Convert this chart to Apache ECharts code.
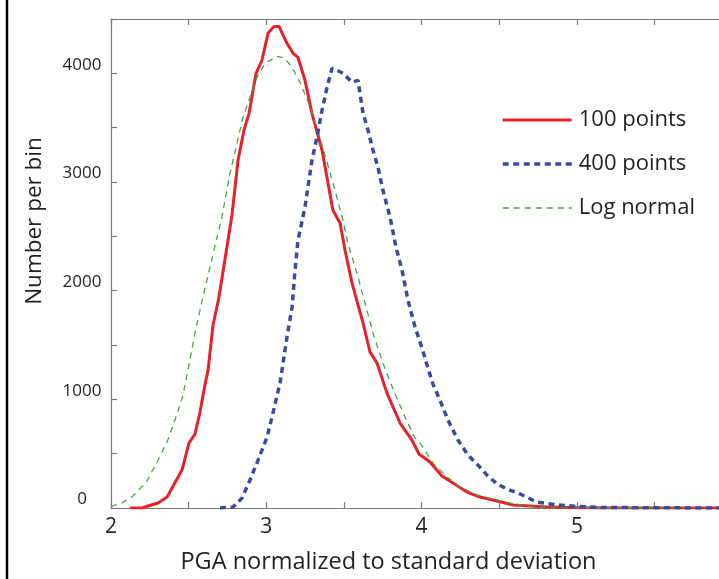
<!DOCTYPE html>
<html>
<head>
<meta charset="utf-8">
<title>PGA histogram</title>
<script src="https://cdn.jsdelivr.net/npm/echarts@6/dist/echarts.min.js"></script>
<style>
  html, body { margin: 0; padding: 0; background: #ffffff; }
  #chart { width: 719px; height: 579px; }
</style>
</head>
<body>
<div id="chart"></div>
<script>
// Histogram counts per bin: [PGA / sigma, number per bin]
const seriesNames = ['100 points', '400 points', 'Log normal'];

const points100 = [
  [2.122, 0], [2.200, 0], [2.238, 18], [2.303, 46], [2.361, 101], [2.457, 349],
  [2.502, 598], [2.541, 680], [2.573, 883], [2.605, 1131], [2.625, 1269],
  [2.657, 1683], [2.695, 1940], [2.779, 2694], [2.818, 3200], [2.856, 3476],
  [2.889, 3632], [2.934, 4000], [2.972, 4120], [3.011, 4368], [3.050, 4432],
  [3.082, 4432], [3.127, 4294], [3.172, 4184], [3.204, 4147], [3.249, 3936],
  [3.294, 3632], [3.359, 3292], [3.429, 2740], [3.475, 2621], [3.507, 2372],
  [3.552, 2069], [3.623, 1701], [3.668, 1434], [3.713, 1333], [3.777, 1057],
  [3.861, 782], [3.938, 625], [3.983, 497], [4.054, 423], [4.131, 294],
  [4.202, 230], [4.292, 147], [4.376, 101], [4.486, 64], [4.589, 28],
  [4.698, 18], [4.808, 9], [5.020, 2], [5.400, 1], [5.915, 0]
];

const points400 = [
  [2.702, 0], [2.786, 9], [2.844, 92], [2.895, 257], [2.947, 441], [3.005, 653],
  [3.043, 874], [3.088, 1149], [3.101, 1269], [3.133, 1572], [3.166, 1848],
  [3.185, 2188], [3.204, 2464], [3.249, 2768], [3.294, 3200], [3.326, 3411],
  [3.359, 3660], [3.391, 3871], [3.423, 4046], [3.455, 4028], [3.494, 4000],
  [3.552, 3917], [3.591, 3936], [3.603, 3816], [3.623, 3632], [3.655, 3476],
  [3.687, 3292], [3.719, 3136], [3.751, 2924], [3.797, 2676], [3.835, 2400],
  [3.874, 2188], [3.912, 1913], [3.958, 1664], [4.003, 1471], [4.041, 1287],
  [4.073, 1140], [4.118, 993], [4.170, 809], [4.234, 625], [4.299, 487],
  [4.363, 395], [4.421, 303], [4.486, 221], [4.550, 175], [4.634, 129],
  [4.743, 55], [4.872, 28], [4.975, 18], [5.149, 5], [5.500, 2], [5.915, 0]
];

const pointsLogNormal = [
  [2.000, 14], [2.071, 46], [2.142, 110], [2.232, 248], [2.296, 423], [2.361, 607],
  [2.412, 809], [2.464, 1039], [2.489, 1223], [2.541, 1609], [2.592, 1940],
  [2.637, 2216], [2.683, 2492], [2.715, 2685], [2.766, 3080], [2.811, 3356],
  [2.850, 3595], [2.895, 3779], [2.940, 3963], [2.992, 4092], [3.069, 4157],
  [3.120, 4138], [3.166, 4055], [3.217, 3917], [3.281, 3697], [3.333, 3467],
  [3.384, 3218], [3.442, 2924], [3.494, 2648], [3.526, 2428], [3.584, 2161],
  [3.636, 1885], [3.687, 1609], [3.751, 1333], [3.816, 1094], [3.893, 837],
  [3.958, 644], [3.990, 598], [4.073, 414], [4.164, 285], [4.247, 193],
  [4.357, 120], [4.486, 74], [4.589, 37], [4.717, 12], [4.891, 3], [5.915, 0]
];

// Axis ticks and labels
const xTicks = [2, 2.5, 3, 3.5, 4, 4.5, 5, 5.5];
const xLabels = [2, 3, 4, 5];
const yLabels = [0, 1000, 2000, 3000, 4000];

const FONT = '"Open Sans", "Noto Sans", sans-serif';
const INK = '#231f20';
const AXIS = '#7a7a7a';

const RED = '#e8202a';
const BLUE = '#3a4b9f';
const GREEN = '#3daa3a';

const styles = {
  '100 points': { color: RED, width: 3, type: 'solid' },
  '400 points': { color: BLUE, width: 3.5, type: [6, 4.5] },
  'Log normal': { color: GREEN, width: 1.3, type: [6, 5] }
};

const chart = echarts.init(document.getElementById('chart'), null, { renderer: 'canvas' });

const axisLine = { show: true, onZero: false, lineStyle: { color: AXIS, width: 1.2 } };
const axisTick = { show: true, inside: true, length: 6, lineStyle: { color: AXIS, width: 1.2 } };

chart.setOption({
  animation: false,
  backgroundColor: '#ffffff',
  grid: { left: 111, top: 19, right: 0, bottom: 71, containLabel: false },
  graphic: [{
    type: 'line',
    shape: { x1: 7, y1: 0, x2: 7, y2: 579 },
    style: { stroke: '#000000', lineWidth: 2.5 }
  }],
  legend: {
    orient: 'vertical',
    left: 501,
    top: 109,
    padding: 0,
    itemWidth: 69,
    itemHeight: 14,
    itemGap: 22,
    itemStyle: { opacity: 0 },
    textStyle: { fontFamily: FONT, fontSize: 22, color: INK, padding: [0, 0, 0, 2] },
    data: seriesNames.map(function (name) {
      return {
        name: name,
        itemStyle: { opacity: 0 },
        lineStyle: {
          color: styles[name].color,
          width: styles[name].width,
          type: styles[name].type
        }
      };
    })
  },
  xAxis: [{
    type: 'value',
    position: 'bottom',
    min: 2,
    max: 5.915,
    axisLine: axisLine,
    axisTick: Object.assign({}, axisTick, { customValues: xTicks }),
    splitLine: { show: false },
    axisLabel: {
      customValues: xLabels,
      fontFamily: FONT, fontSize: 21, color: INK, margin: 9
    },
    name: 'PGA normalized to standard deviation',
    nameLocation: 'middle',
    nameGap: 42,
    nameTextStyle: { fontFamily: FONT, fontSize: 23.5, color: INK, padding: [0, 53, 0, 0] }
  }, {
    type: 'value',
    position: 'top',
    min: 2,
    max: 5.915,
    axisLine: axisLine,
    axisTick: Object.assign({}, axisTick, { customValues: xTicks }),
    splitLine: { show: false },
    axisLabel: { show: false }
  }],
  yAxis: [{
    type: 'value',
    min: 0,
    max: 4500,
    interval: 500,
    axisLine: axisLine,
    axisTick: axisTick,
    splitLine: { show: false },
    axisLabel: {
      customValues: yLabels,
      formatter: function (v) { return String(v); },
      fontFamily: FONT, fontSize: 17, color: INK,
      align: 'center', verticalAlign: 'bottom', margin: 29
    },
    name: 'Number per bin',
    nameLocation: 'middle',
    nameGap: 65,
    nameTextStyle: { fontFamily: FONT, fontSize: 22.5, color: INK, padding: [0, 0, 0, 85] }
  }],
  series: [{
    name: '100 points',
    type: 'line',
    data: points100,
    symbol: 'none',
    smooth: false,
    z: 2,
    lineStyle: Object.assign({ join: 'round' }, styles['100 points']),
    itemStyle: { color: RED }
  }, {
    name: 'Log normal',
    type: 'line',
    data: pointsLogNormal,
    symbol: 'none',
    smooth: false,
    z: 3,
    lineStyle: styles['Log normal'],
    itemStyle: { color: GREEN }
  }, {
    name: '400 points',
    type: 'line',
    data: points400,
    symbol: 'none',
    smooth: false,
    z: 4,
    lineStyle: styles['400 points'],
    itemStyle: { color: BLUE }
  }]
});
</script>
</body>
</html>
